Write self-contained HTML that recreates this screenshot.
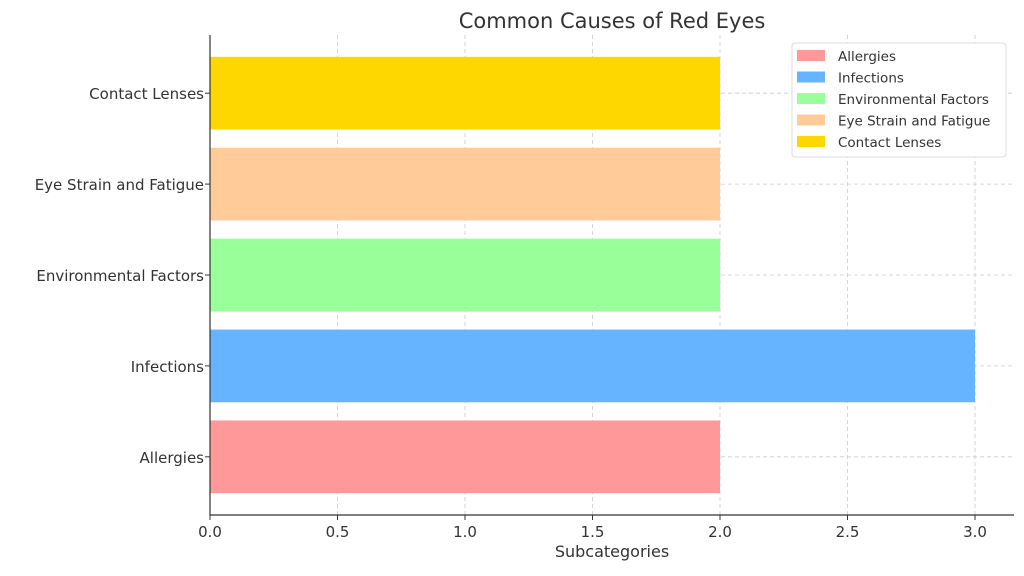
<!DOCTYPE html>
<html><head><meta charset="utf-8"><style>
body{margin:0;background:#fff;font-family:"Liberation Sans","DejaVu Sans",sans-serif;}
svg text{font-family:"DejaVu Sans","Liberation Sans",sans-serif;fill:#333;}
</style></head><body>
<svg id="chart" width="1024" height="571" xmlns="http://www.w3.org/2000/svg">
<text x="612" y="28" font-size="21" text-anchor="middle">Common Causes of Red Eyes</text>
<g id="grid"></g><g id="bars"></g><g id="axes"></g><g id="legend"></g>
</svg>
<script>
const categories=["Allergies","Infections","Environmental Factors","Eye Strain and Fatigue","Contact Lenses"];
const values=[2,3,2,2,2];
const colors=["#ff9999","#66b3ff","#99ff99","#ffcc99","#ffd700"];
const xTicks=[0,0.5,1.0,1.5,2.0,2.5,3.0];
const xTickLabels=["0.0","0.5","1.0","1.5","2.0","2.5","3.0"];
const NS="http://www.w3.org/2000/svg";
const L=210,R=1014,T=35,B=515;
const xs=v=>L+v*255;
const ys=i=>B-(i+0.64)*(B-T)/(categories.length-1+1.28);
const bw=0.8*(B-T)/(categories.length-1+1.28);
function mk(p,tag,a){const e=document.createElementNS(NS,tag);for(const k in a)e.setAttribute(k,a[k]);document.getElementById(p).appendChild(e);return e;}
xTicks.forEach((t,i)=>{
 const g=mk("grid","line",{x1:xs(t),x2:xs(t),y1:T,y2:B,stroke:"#ccc","stroke-dasharray":"4,3","stroke-width":0.8});
 
 
 const tk=mk("axes","line",{x1:xs(t),x2:xs(t),y1:B,y2:B+5,stroke:"#333"});
 
 
 const tl=mk("axes","text",{x:xs(t),y:B+22,"font-size":15,"text-anchor":"middle"});
 tl.textContent=xTickLabels[i];
 
 
});
categories.forEach((c,i)=>{
 const y=ys(i);
 const g=mk("grid","line",{x1:L,x2:R,y1:y,y2:y,stroke:"#ccc","stroke-dasharray":"4,3","stroke-width":0.8});
 
 
 const b=mk("bars","rect",{x:xs(0),y:y-bw/2,width:xs(values[i])-xs(0),height:bw,fill:colors[i]});
 
 
 const tk=mk("axes","line",{x1:L-5,x2:L,y1:y,y2:y,stroke:"#333"});
 
 
 const tl=mk("axes","text",{x:L-6,y:y+6,"font-size":15,"text-anchor":"end"});
 tl.textContent=c;
 
 
});
const ax=mk("axes","path",{d:`M${L},${T} V${B} H${R}`,fill:"none",stroke:"#333","stroke-width":1.2});


const xt=mk("axes","text",{x:612,y:557,"font-size":16,"text-anchor":"middle"});
xt.textContent="Subcategories";


const lb=mk("legend","rect",{x:792,y:43,width:214,height:114,fill:"#fff",stroke:"#ddd",rx:3});


categories.forEach((c,i)=>{
 const y=56+i*21.5;
 const s=mk("legend","rect",{x:797,y:y-6,width:28,height:11,fill:colors[i]});
 
 
 const t=mk("legend","text",{x:838,y:y+5,"font-size":13.5});
 t.textContent=c;
 
 
});
</script>
</body></html>
